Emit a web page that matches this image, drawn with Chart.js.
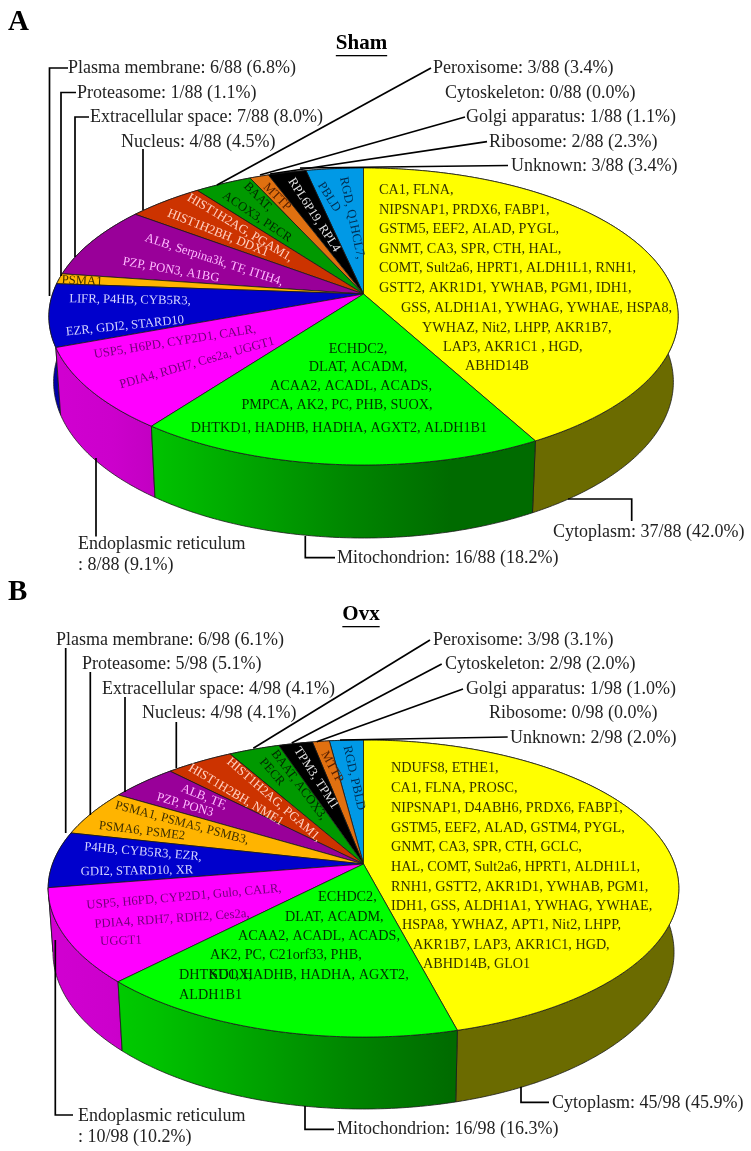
<!DOCTYPE html>
<html>
<head>
<meta charset="utf-8">
<title>Sham / Ovx subcellular location</title>
<script src="https://cdn.jsdelivr.net/npm/chart.js@4/dist/chart.umd.min.js"></script>
<style>
  html, body { margin: 0; padding: 0; background: #fff; }
  #page { position: relative; width: 751px; height: 1151px; overflow: hidden; }
  canvas { position: absolute; left: 0; }
</style>
</head>
<body>
<div id="page">
  <canvas id="shamCanvas" style="top:0" width="751" height="575"></canvas>
  <canvas id="ovxCanvas" style="top:575px" width="751" height="576"></canvas>
</div>
<script>
'use strict'

// clockwise from 12 o'clock
const categories = ['Cytoplasm', 'Mitochondrion', 'Endoplasmic reticulum', 'Plasma membrane', 'Proteasome',
  'Extracellular space', 'Nucleus', 'Peroxisome', 'Cytoskeleton', 'Golgi apparatus', 'Ribosome', 'Unknown'];
const shamValues = [37, 16, 8, 6, 1, 7, 4, 3, 0, 1, 2, 3];
const ovxValues = [45, 16, 10, 6, 5, 4, 4, 3, 2, 1, 0, 2];

const shamGenes = [
  ['CA1, FLNA,', 'NIPSNAP1, PRDX6, FABP1,', 'GSTM5, EEF2, ALAD, PYGL,', 'GNMT, CA3, SPR, CTH, HAL,',
    'COMT, Sult2a6, HPRT1, ALDH1L1, RNH1,', 'GSTT2, AKR1D1, YWHAB, PGM1, IDH1,',
    'GSS, ALDH1A1, YWHAG, YWHAE, HSPA8,', 'YWHAZ, Nit2, LHPP, AKR1B7,', 'LAP3, AKR1C1 , HGD,', 'ABHD14B'],
  ['ECHDC2,', 'DLAT, ACADM,', 'ACAA2, ACADL, ACADS,', 'PMPCA, AK2, PC, PHB, SUOX,', 'DHTKD1, HADHB, HADHA, AGXT2, ALDH1B1'],
  ['USP5, H6PD, CYP2D1, CALR,', 'PDIA4, RDH7, Ces2a, UGGT1'],
  ['LIFR, P4HB, CYB5R3,', 'EZR, GDI2, STARD10'],
  ['PSMA1'],
  ['ALB, Serpina3k, TF, ITIH4,', 'PZP, PON3, A1BG'],
  ['HIST1H2AG, PGAM1,', 'HIST1H2BH, DDX1'],
  ['BAAT,', 'ACOX3, PECR'],
  [],
  ['MTTP'],
  ['RPL6P19, RPL4'],
  ['PBLD', 'RGD, Q1HCL7,']
];
const ovxGenes = [
  ['NDUFS8, ETHE1,', 'CA1, FLNA, PROSC,', 'NIPSNAP1, D4ABH6, PRDX6, FABP1,', 'GSTM5, EEF2, ALAD, GSTM4, PYGL,',
    'GNMT, CA3, SPR, CTH, GCLC,', 'HAL, COMT, Sult2a6, HPRT1, ALDH1L1,', 'RNH1, GSTT2, AKR1D1, YWHAB, PGM1,',
    'IDH1, GSS, ALDH1A1, YWHAG, YWHAE,', 'HSPA8, YWHAZ, APT1, Nit2, LHPP,', 'AKR1B7, LAP3, AKR1C1, HGD,', 'ABHD14B, GLO1'],
  ['ECHDC2,', 'DLAT, ACADM,', 'ACAA2, ACADL, ACADS,', 'AK2, PC, C21orf33, PHB,', 'SUOX,', 'DHTKD1, HADHB, HADHA, AGXT2,', 'ALDH1B1'],
  ['USP5, H6PD, CYP2D1, Gulo, CALR,', 'PDIA4, RDH7, RDH2, Ces2a,', 'UGGT1'],
  ['P4HB, CYB5R3, EZR,', 'GDI2, STARD10, XR'],
  ['PSMA1, PSMA5, PSMB3,', 'PSMA6, PSME2'],
  ['ALB, TF,', 'PZP, PON3'],
  ['HIST1H2AG, PGAM1,', 'HIST1H2BH, NME1'],
  ['BAAT, ACOX3,', 'PECR'],
  ['TPM3, TPM1'],
  ['MTTP'],
  [],
  ['RGD, PBLD']
];

// styles, same order as categories
const sliceColors = ['#ffff00', '#00ff00', '#ff00ff', '#0000cc', '#ffb400', '#990099', '#cc3300', '#009900', '#000000', '#e07010', '#000000', '#0099e6'];
const geneInk = ['#333300', '#003000', '#700078', '#d4d4ff', '#403000', '#ffb8ff', '#ffd0c0', '#002800', '#e4e4e4', '#582000', '#e4e4e4', '#002c50'];

// where each gene line sits: x, y, rotation in degrees, 0 = left anchor / 1 = centre anchor
const shamGeneSpots = [
  [[379, 190, 0, 0], [379, 210, 0, 0], [379, 229, 0, 0], [379, 249, 0, 0], [379, 268, 0, 0], [379, 288, 0, 0],
    [401, 308, 0, 0], [422, 328, 0, 0], [443, 347, 0, 0], [465, 366, 0, 0]],
  [[358, 349, 0, 1], [358, 367, 0, 1], [351, 386, 0, 1], [337, 405, 0, 1], [339, 428, 0, 1]],
  [[175, 342, -9, 1], [197, 363, -16, 1]],
  [[130, 300, 1, 1], [125, 326, -6, 1]],
  [[82, 281, 3, 1]],
  [[214, 260, 18, 1], [171, 270, 10, 1]],
  [[240, 228, 31, 1], [218, 233, 22, 1]],
  [[258, 197, 45, 1], [257, 217, 34, 1]],
  [],
  [[277, 197, 45, 1]],
  [[314, 215, 57, 1]],
  [[329, 197, 58, 1], [352, 218, 78, 1]]
];
const ovxGeneSpots = [
  [[391, 768, 0, 0], [391, 788, 0, 0], [391, 808, 0, 0], [391, 828, 0, 0], [391, 847, 0, 0], [391, 867, 0, 0],
    [391, 887, 0, 0], [391, 906, 0, 0], [402, 925, 0, 0], [413, 945, 0, 0], [423, 964, 0, 0]],
  [[318, 897, 0, 0], [285, 917, 0, 0], [238, 936, 0, 0], [210, 955, 0, 0], [210, 975, 0, 0], [179, 975, 0, 0], [179, 995, 0, 0]],
  [[184, 897, -5, 1], [172, 919, -4, 1], [121, 941, -2, 1]],
  [[143, 852, 5, 1], [137, 871, -1, 1]],
  [[182, 823, 15, 1], [142, 831, 7, 1]],
  [[204, 797, 22, 1], [185, 805, 16, 1]],
  [[274, 800, 41, 1], [236, 795, 31, 1]],
  [[299, 785, 53, 1], [272, 772, 49, 1]],
  [[316, 778, 57, 1]],
  [[332, 767, 61, 1]],
  [],
  [[354, 778, 77, 1]]
];

// callout text anchors, same order as categories
const shamLabelSpots = [[553, 532], [337, 558], [78, 544], [68, 68], [77, 93], [90, 117], [121, 142], [433, 68], [445, 93], [466, 117], [489, 142], [511, 166]];
const ovxLabelSpots = [[552, 1103], [337, 1129], [78, 1116], [56, 640], [82, 664], [102, 689], [142, 713], [433, 640], [445, 664], [466, 689], [489, 713], [510, 738]];

const shamLeaders = [
  [[631.7, 521], [631.7, 499], [568, 499]],
  [[335, 557.7], [305.3, 557.7], [305.3, 536]],
  [[96, 458], [96, 536.5]],
  [[68, 68], [49.5, 68], [49.5, 296]],
  [[76, 92.5], [61, 92.5], [61, 276]],
  [[89, 117], [75, 117], [75, 257]],
  [[143, 149], [143, 210]],
  [[431, 68], [217, 185]],
  [[465, 117], [260, 175]],
  [[487, 141.7], [270, 174]],
  [[508, 165.5], [300, 168]]
];
const ovxLeaders = [
  [[549, 1102.3], [521, 1102.3], [521, 1086.7]],
  [[334, 1129.3], [305, 1129.3], [305, 1106]],
  [[73, 1115], [55.3, 1115], [55.3, 940]],
  [[65.7, 648], [65.7, 833]],
  [[90.3, 672], [90.3, 815]],
  [[125, 697], [125, 792]],
  [[176.3, 722], [176.3, 768]],
  [[430, 640], [253.3, 748.3]],
  [[441.7, 664], [291.7, 743]],
  [[463, 689], [316.7, 741.7]],
  [[507.7, 737], [340, 740]]
];

const serif = '"Liberation Serif", "Times New Roman", serif';
const wallShade = [[0, 0.82], [0.1, 0.8], [0.17, 0.76], [0.48, 0.52], [0.64, 0.42], [1, 0.42]];

function shadeColor(hex, f) {
  let n = parseInt(hex.slice(1), 16);
  let r = Math.round((n >> 16 & 255) * f), g = Math.round((n >> 8 & 255) * f), b = Math.round((n & 255) * f);
  return `rgb(${r},${g},${b})`;
}

// the pie is viewed in perspective, so the circle centre does not land on the ellipse centre.
// depth 0 is the top face, depth 1 the bottom rim
const pie3d = {
  id: 'pie3d',
  beforeDatasetsDraw(chart, args, o) {
    let ctx = chart.ctx;
    let arcs = chart.getDatasetMeta(0).data;
    let project = (angle, depth) => {
      let u = Math.cos(angle), v = Math.sin(angle), w = 1 - o.k * v + o.m * depth;
      return [o.cx + o.a * u / w, o.y0 - o.top + (o.b * v + o.c * depth) / w];
    };
    let ring = (arc) => {
      let pts = [], n = Math.max(2, Math.ceil((arc.endAngle - arc.startAngle) / 0.01));
      for(let i = 0; i <= n; i++) pts.push(arc.startAngle + (arc.endAngle - arc.startAngle) * i / n);
      return pts;
    };

    ctx.save();
    ctx.lineJoin = 'round';
    ctx.lineWidth = 0.8;
    ctx.strokeStyle = '#1a1a1a';

    // side wall, the far parts first
    let order = arcs.map((arc, i) => i).filter(i => arcs[i].endAngle > arcs[i].startAngle);
    order.sort((p, q) => Math.sin((arcs[p].startAngle + arcs[p].endAngle) / 2) - Math.sin((arcs[q].startAngle + arcs[q].endAngle) / 2));
    for(let i of order) {
      let pts = ring(arcs[i]);
      let grad = ctx.createLinearGradient(49, 0, 678, 0);
      for(let stop of wallShade) grad.addColorStop(stop[0], shadeColor(sliceColors[i], stop[1]));
      ctx.beginPath();
      pts.forEach((a, j) => {
        let p = project(a, 0);
        if(j == 0) ctx.moveTo(p[0], p[1]); else ctx.lineTo(p[0], p[1]);
      });
      for(let a of pts.slice().reverse()) {
        let p = project(a, 1);
        ctx.lineTo(p[0], p[1]);
      }
      ctx.closePath();
      ctx.fillStyle = grad;
      ctx.fill();
      ctx.stroke();
    }

    // top face
    for(let i of order) {
      ctx.beginPath();
      ctx.moveTo(o.cx, o.y0 - o.top);
      for(let a of ring(arcs[i])) {
        let p = project(a, 0);
        ctx.lineTo(p[0], p[1]);
      }
      ctx.closePath();
      ctx.fillStyle = sliceColors[i];
      ctx.fill();
      ctx.stroke();
    }
    ctx.restore();
    return false;
  },
  afterDraw(chart, args, o) {
    let ctx = chart.ctx;
    let values = chart.data.datasets[0].data;
    let total = values.reduce((s, x) => s + x, 0);

    ctx.save();
    ctx.translate(0, -o.top);

    // genes on the slices, tilted lines are foreshortened in the original
    ctx.textBaseline = 'middle';
    o.genes.forEach((lines, i) => {
      ctx.fillStyle = geneInk[i];
      lines.forEach((line, j) => {
        let spot = o.geneSpots[i][j];
        ctx.save();
        ctx.translate(spot[0], spot[1]);
        ctx.rotate(spot[2] * Math.PI / 180);
        ctx.font = (spot[2] == 0 ? '14.2px ' : '12.7px ') + serif;
        ctx.textAlign = spot[3] ? 'center' : 'left';
        ctx.fillText(line, 0, 0);
        ctx.restore();
      });
    });

    // callout lines
    ctx.strokeStyle = '#000';
    ctx.lineWidth = 1.7;
    for(let line of o.leaders) {
      ctx.beginPath();
      line.forEach((p, j) => {
        if(j == 0) ctx.moveTo(p[0], p[1]); else ctx.lineTo(p[0], p[1]);
      });
      ctx.stroke();
    }

    // callout text
    ctx.font = '18px ' + serif;
    ctx.textAlign = 'left';
    ctx.fillStyle = '#222';
    categories.forEach((name, i) => {
      let share = `${values[i]}/${total} (${(values[i] / total * 100).toFixed(1)}%)`;
      let spot = o.labelSpots[i];
      if(name == 'Endoplasmic reticulum') {
        ctx.fillText(name, spot[0], spot[1]);
        ctx.fillText(': ' + share, spot[0], spot[1] + 21.5);
      } else {
        ctx.fillText(`${name}: ${share}`, spot[0], spot[1]);
      }
    });

    // panel letter and title
    ctx.fillStyle = '#000';
    ctx.font = 'bold 29px ' + serif;
    ctx.fillText(o.letter, 8, o.letterY);
    ctx.font = 'bold 21px ' + serif;
    ctx.textAlign = 'center';
    ctx.fillText(o.title, o.titleX, o.titleY);
    let w = ctx.measureText(o.title).width;
    ctx.fillRect(o.titleX - w / 2, o.titleY + 11, w, 1.3);
    ctx.restore();
  }
};

function makePie(id, values, pieOptions) {
  return new Chart(document.getElementById(id), {
    type: 'pie',
    data: {
      labels: categories,
      datasets: [{ data: values, backgroundColor: sliceColors }]
    },
    options: {
      responsive: false,
      animation: false,
      plugins: {
        legend: { display: false },
        tooltip: { enabled: false },
        pie3d: pieOptions
      }
    },
    plugins: [pie3d]
  });
}

makePie('shamCanvas', shamValues, {
  top: 0, cx: 363.5, y0: 294, a: 311, b: 145.1, k: 0.1515, m: 0.015, c: 65.6,
  genes: shamGenes, geneSpots: shamGeneSpots, labelSpots: shamLabelSpots, leaders: shamLeaders,
  letter: 'A', letterY: 23, title: 'Sham', titleX: 361.5, titleY: 44
});
makePie('ovxCanvas', ovxValues, {
  top: 575, cx: 363.5, y0: 864, a: 311, b: 144.5, k: 0.165, m: 0.015, c: 63.75,
  genes: ovxGenes, geneSpots: ovxGeneSpots, labelSpots: ovxLabelSpots, leaders: ovxLeaders,
  letter: 'B', letterY: 593, title: 'Ovx', titleX: 361, titleY: 615
});
</script>
</body>
</html>
